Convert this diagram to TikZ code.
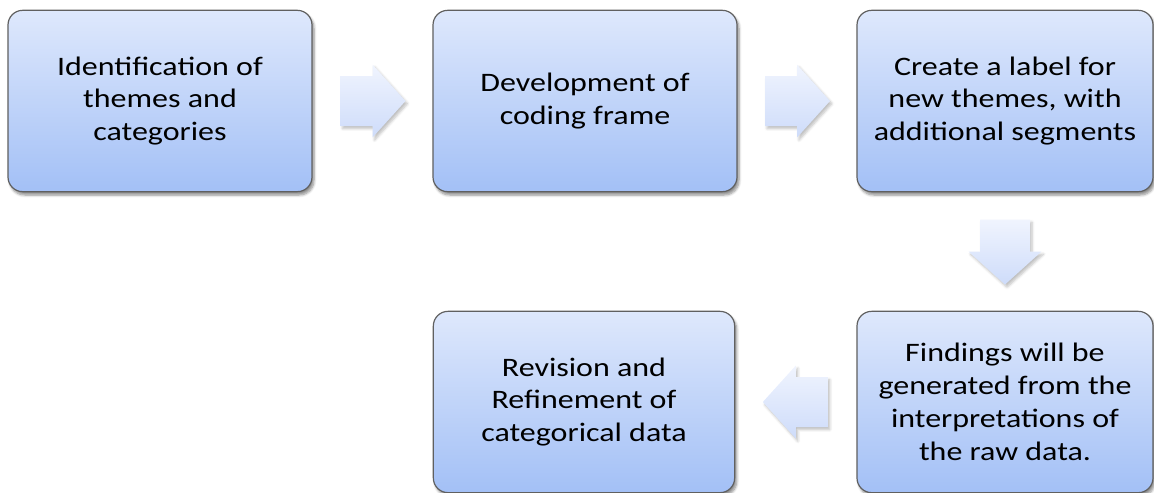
\documentclass[tikz,border=0pt]{standalone}
\usepackage{fontspec}
\setmainfont{Carlito}[FakeStretch=1.2]
\usetikzlibrary{shadows.blur}
\usetikzlibrary{calc}

\definecolor{boxtop}{RGB}{222,232,252}
\definecolor{boxbot}{RGB}{163,192,246}
\definecolor{boxline}{RGB}{96,96,96}
\definecolor{arrtop}{RGB}{240,244,254}
\definecolor{arrbot}{RGB}{206,220,250}

\tikzset{
  stepbox/.style={rectangle, rounded corners=11pt, draw=boxline, line width=0.9pt,
    top color=boxtop, bottom color=boxbot, minimum width=228pt, minimum height=136pt,
    align=center, inner sep=0pt, font=\fontsize{20}{24.6}\selectfont,
    blur shadow={shadow xshift=1.5pt, shadow yshift=-2.5pt, shadow blur steps=6, shadow opacity=45}},
  arrowfill/.style={top color=arrtop, bottom color=arrbot, draw=none,
    blur shadow={shadow xshift=1.5pt, shadow yshift=-2pt, shadow blur steps=5, shadow opacity=25}},
  pics/blockarrow/.style={code={
    \path[arrowfill] (-32,-25) -- (0,-25) -- (0,-36.5) -- (33,0) -- (0,36.5) -- (0,25) -- (-32,25) -- cycle;
  }}
}

\begin{document}
\begin{tikzpicture}[x=0.75pt,y=0.75pt,yscale=-1,xscale=1]
%set diagram size 1154 x 493
\useasboundingbox (0,0) rectangle (1154,493);

%Shape: Rounded Rect [steps]
\node [stepbox] (ident) at (160,101) {Identification of\\themes and\\categories};
\node [stepbox] (frame) at (585,101) {Development of\\coding frame};
\node [stepbox, minimum width=222pt] (label) at (1005,101) {Create a label for\\new themes, with\\additional segments};
\node [stepbox, minimum width=222pt] (findings) at (1005,402) {Findings will be\\generated from the\\interpretations of\\the raw data.};
\node [stepbox, minimum width=226pt] (revision) at (584,402) {Revision and\\Refinement of\\categorical data};

%Block Arrows
\coordinate (a1) at ($(ident.east)!0.5!(frame.west)$);
\coordinate (a2) at ($(frame.east)!0.5!(label.west)$);
\coordinate (a3) at ($(label.south)!0.5!(findings.north)$);
\coordinate (a4) at ($(findings.west)!0.5!(revision.east)$);
\pic at (a1) {blockarrow};
\pic at (a2) {blockarrow};
\pic [rotate=-90] at (a3) {blockarrow};
\pic [rotate=180] at (a4) {blockarrow};

\end{tikzpicture}
\end{document}
